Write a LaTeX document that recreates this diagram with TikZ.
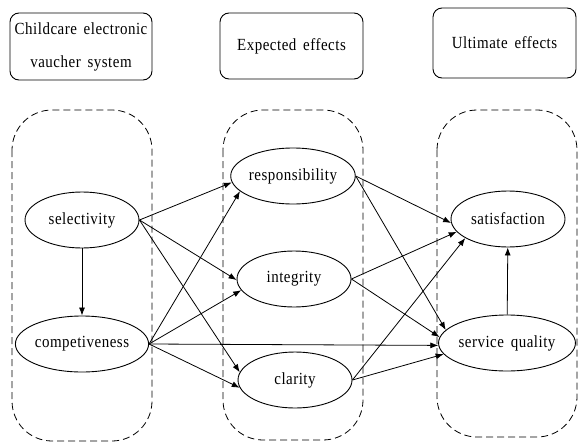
\documentclass[tikz,border=0pt]{standalone}
\usepackage{fontspec}
\setmainfont{Liberation Serif}[FakeStretch=0.88,LetterSpace=3,WordSpace=1.6]
\usetikzlibrary{shapes.geometric,arrows.meta}
\begin{document}
\begin{tikzpicture}[x=1pt,y=-1pt,
  ell/.style={ellipse,draw,line width=0.9pt,minimum width=114pt,minimum height=56pt,inner sep=0pt,font=\fontsize{17}{20}\selectfont},
  hdr/.style={draw,line width=0.9pt,rounded corners=9pt,inner sep=0pt,align=center,font=\fontsize{17}{33}\selectfont},
  region/.style={draw,line width=0.8pt,dash pattern=on 7pt off 4pt,rounded corners=40pt},
  arr/.style={-{Latex[length=8pt,width=6pt]},line width=0.8pt}]
\useasboundingbox (0,0) rectangle (583,442);
% header boxes
\node[hdr,minimum width=142pt,minimum height=67pt] (h1) at (81,46.5) {Childcare electronic\\vaucher system};
\node[hdr,minimum width=143pt,minimum height=66pt] (h2) at (291.5,46) {Expected effects};
\node[hdr,minimum width=143pt,minimum height=70pt] (h3) at (504.5,43) {Ultimate effects};
% dashed regions
\draw[region] (12,110) rectangle (152,441);
\draw[region] (223,110) rectangle (363,440);
\draw[region] (437,110) rectangle (577,437);
% ellipses
\node[ell] (sel) at (82,220) {selectivity};
\node[ell] (comp) at (82,344) {competiveness};
\node[ell] (resp) at (293,176) {responsibility};
\node[ell] (integ) at (294,279) {integrity};
\node[ell] (clar) at (295,380) {clarity};
\node[ell] (sat) at (508,219) {satisfaction};
\node[ell] (sq) at (507,343) {service quality};
% arrows
\draw[arr] (sel) -- (comp);
\draw[arr] (sel.east) -- (resp.186);
\draw[arr] (sel.east) -- (integ.181);
\draw[arr] (sel.east) -- (clar.172);
\draw[arr] (comp.east) -- (resp.196);
\draw[arr] (comp.east) -- (integ.192);
\draw[arr] (comp.east) -- (clar.188);
\draw[arr] (comp.east) -- (sq.182);
\draw[arr] (resp.east) -- (sat.184);
\draw[arr] (resp.east) -- (sq.168);
\draw[arr] (integ.east) -- (sat.194);
\draw[arr] (integ.east) -- (sq.175);
\draw[arr] (clar.east) -- (sat.204);
\draw[arr] (clar.east) -- (sq.190);
\draw[arr] (sq) -- (sat);
\end{tikzpicture}
\end{document}
